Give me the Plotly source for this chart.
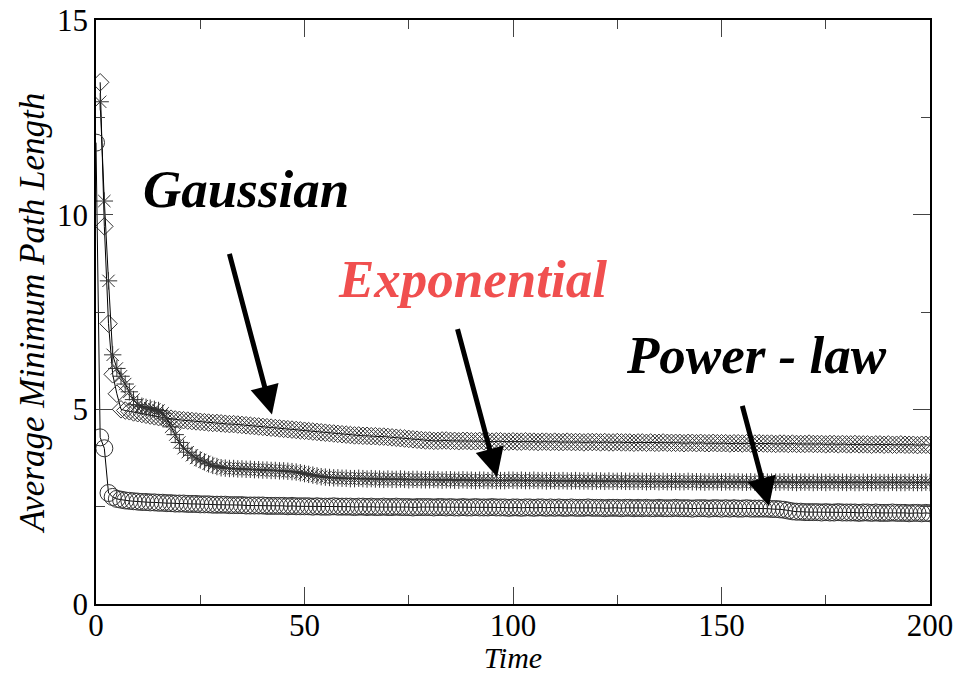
import plotly.graph_objects as go

# Time steps (one sample per step)
TIME = list(range(0, 201))

# Average minimum path length per time step, one list per degree distribution
GAUSSIAN = [
    None, 13.4, 9.7, 7.2, 5.9, 5.4, 5.0, 4.97, 4.95, 4.92,
    4.90, 4.88, 4.86, 4.84, 4.82, 4.80, 4.79, 4.77, 4.76, 4.74,
    4.73, 4.72, 4.71, 4.70, 4.69, 4.68, 4.67, 4.66, 4.65, 4.65,
    4.64, 4.63, 4.62, 4.62, 4.61, 4.60, 4.59, 4.58, 4.57, 4.56,
    4.55, 4.54, 4.53, 4.52, 4.51, 4.50, 4.49, 4.48, 4.47, 4.46,
    4.45, 4.44, 4.43, 4.42, 4.41, 4.40, 4.39, 4.38, 4.37, 4.36,
    4.35, 4.34, 4.33, 4.33, 4.32, 4.32, 4.31, 4.31, 4.30, 4.30,
    4.29, 4.28, 4.27, 4.26, 4.25, 4.24, 4.23, 4.22, 4.21, 4.20,
    4.20, 4.19, 4.19, 4.20, 4.20, 4.19, 4.19, 4.18, 4.19, 4.19,
    4.18, 4.18, 4.19, 4.18, 4.18, 4.17, 4.18, 4.18, 4.17, 4.17,
    4.18, 4.17, 4.17, 4.18, 4.17, 4.17, 4.16, 4.17, 4.17, 4.16,
    4.17, 4.16, 4.16, 4.17, 4.16, 4.16, 4.16, 4.15, 4.16, 4.16,
    4.16, 4.15, 4.16, 4.15, 4.15, 4.16, 4.15, 4.15, 4.15, 4.14,
    4.15, 4.15, 4.14, 4.15, 4.14, 4.14, 4.15, 4.14, 4.14, 4.14,
    4.14, 4.13, 4.14, 4.14, 4.13, 4.14, 4.13, 4.13, 4.14, 4.13,
    4.13, 4.13, 4.12, 4.13, 4.13, 4.12, 4.13, 4.12, 4.12, 4.13,
    4.12, 4.12, 4.12, 4.11, 4.12, 4.12, 4.11, 4.12, 4.11, 4.11,
    4.11, 4.12, 4.11, 4.11, 4.11, 4.10, 4.11, 4.11, 4.10, 4.11,
    4.10, 4.10, 4.11, 4.10, 4.10, 4.10, 4.09, 4.10, 4.10, 4.09,
    4.10, 4.09, 4.09, 4.10, 4.09, 4.09, 4.09, 4.08, 4.09, 4.09,
    4.08,
]

EXPONENTIAL = [
    None, 12.9, 10.35, 8.3, 6.4, 6.05, 5.85, 5.65, 5.45, 5.25,
    5.12, 5.08, 5.05, 5.03, 5.00, 4.97, 4.90, 4.75, 4.55, 4.35,
    4.15, 4.00, 3.90, 3.82, 3.75, 3.70, 3.65, 3.60, 3.56, 3.53,
    3.50, 3.49, 3.48, 3.48, 3.47, 3.47, 3.46, 3.46, 3.45, 3.45,
    3.44, 3.44, 3.43, 3.43, 3.42, 3.42, 3.41, 3.40, 3.39, 3.37,
    3.35, 3.33, 3.31, 3.29, 3.27, 3.26, 3.25, 3.24, 3.24, 3.23,
    3.23, 3.22, 3.22, 3.23, 3.22, 3.21, 3.22, 3.21, 3.21, 3.20,
    3.21, 3.20, 3.20, 3.21, 3.20, 3.19, 3.20, 3.20, 3.19, 3.19,
    3.19, 3.20, 3.19, 3.18, 3.19, 3.19, 3.18, 3.18, 3.19, 3.18,
    3.18, 3.17, 3.18, 3.18, 3.17, 3.18, 3.17, 3.17, 3.17, 3.18,
    3.18, 3.17, 3.18, 3.17, 3.17, 3.18, 3.17, 3.17, 3.16, 3.17,
    3.17, 3.16, 3.17, 3.16, 3.16, 3.17, 3.16, 3.16, 3.16, 3.15,
    3.16, 3.16, 3.15, 3.16, 3.15, 3.15, 3.16, 3.15, 3.15, 3.15,
    3.15, 3.15, 3.14, 3.15, 3.15, 3.14, 3.15, 3.14, 3.14, 3.15,
    3.14, 3.14, 3.15, 3.14, 3.14, 3.14, 3.13, 3.14, 3.14, 3.14,
    3.13, 3.14, 3.14, 3.13, 3.14, 3.13, 3.13, 3.14, 3.13, 3.13,
    3.14, 3.13, 3.13, 3.13, 3.13, 3.14, 3.13, 3.13, 3.12, 3.13,
    3.13, 3.13, 3.12, 3.13, 3.13, 3.12, 3.13, 3.13, 3.12, 3.13,
    3.12, 3.13, 3.12, 3.12, 3.13, 3.12, 3.12, 3.13, 3.12, 3.12,
    3.12, 3.13, 3.12, 3.12, 3.12, 3.13, 3.12, 3.12, 3.12, 3.13,
    3.12,
]

POWER_LAW = [
    11.85, 4.28, 4.00, 2.85, 2.75, 2.70, 2.68, 2.66, 2.65, 2.64,
    2.63, 2.62, 2.62, 2.61, 2.61, 2.60, 2.60, 2.59, 2.59, 2.58,
    2.58, 2.58, 2.57, 2.57, 2.57, 2.56, 2.56, 2.56, 2.55, 2.55,
    2.55, 2.55, 2.54, 2.54, 2.54, 2.54, 2.53, 2.53, 2.53, 2.53,
    2.53, 2.52, 2.52, 2.52, 2.52, 2.52, 2.51, 2.52, 2.51, 2.51,
    2.51, 2.51, 2.50, 2.51, 2.50, 2.50, 2.50, 2.51, 2.50, 2.50,
    2.50, 2.50, 2.49, 2.50, 2.50, 2.49, 2.50, 2.49, 2.49, 2.50,
    2.49, 2.49, 2.50, 2.49, 2.49, 2.49, 2.48, 2.49, 2.49, 2.49,
    2.49, 2.48, 2.49, 2.49, 2.48, 2.49, 2.48, 2.48, 2.49, 2.48,
    2.48, 2.49, 2.48, 2.48, 2.48, 2.49, 2.48, 2.48, 2.48, 2.47,
    2.48, 2.48, 2.47, 2.48, 2.48, 2.47, 2.48, 2.48, 2.47, 2.48,
    2.47, 2.48, 2.47, 2.47, 2.48, 2.47, 2.47, 2.47, 2.48, 2.47,
    2.47, 2.47, 2.46, 2.47, 2.47, 2.47, 2.46, 2.47, 2.47, 2.46,
    2.47, 2.46, 2.47, 2.46, 2.46, 2.47, 2.46, 2.46, 2.46, 2.47,
    2.46, 2.46, 2.46, 2.45, 2.46, 2.46, 2.46, 2.45, 2.46, 2.46,
    2.45, 2.46, 2.45, 2.46, 2.45, 2.45, 2.46, 2.45, 2.45, 2.45,
    2.45, 2.45, 2.44, 2.44, 2.43, 2.42, 2.40, 2.38, 2.37, 2.37,
    2.36, 2.36, 2.36, 2.36, 2.35, 2.36, 2.35, 2.35, 2.36, 2.35,
    2.35, 2.35, 2.35, 2.34, 2.35, 2.35, 2.34, 2.35, 2.34, 2.34,
    2.34, 2.35, 2.34, 2.34, 2.34, 2.33, 2.34, 2.34, 2.33, 2.34,
    2.33,
]

X_TICKS = [0, 50, 100, 150, 200]
Y_TICKS = [0, 5, 10, 15]

# Curve labels: text, label centre (time, length), arrow tail, arrow tip, colour
LABELS = [
    ("Gaussian", (36, 10.65), (31.9, 9.03), (42.2, 4.87), "#000000"),
    ("Exponential", (90.2, 8.35), (86.6, 7.1), (96.2, 3.26), "#F04F4F"),
    ("Power - law", (158.5, 6.4), (154.9, 5.13), (161.4, 2.51), "#000000"),
]

SERIF = "Liberation Serif, Times New Roman, serif"
MARK = "#333333"

fig = go.Figure()

# Symbol sizes chosen so every glyph is roughly the same width on screen
for values, symbol, size in [
    (GAUSSIAN, "diamond-open", 13.5),
    (EXPONENTIAL, "asterisk-open", 14.5),
    (POWER_LAW, "circle-open", 17),
]:
    fig.add_trace(go.Scatter(
        x=TIME, y=values, mode="lines+markers",
        line=dict(color="black", width=1),
        marker=dict(symbol=symbol, size=size, color=MARK, line=dict(width=1)),
        showlegend=False, connectgaps=False,
    ))

annotations = []
for text, (tx, ty), (ax, ay), (hx, hy), color in LABELS:
    annotations.append(dict(
        x=hx, y=hy, ax=ax, ay=ay, xref="x", yref="y", axref="x", ayref="y",
        text="", showarrow=True, arrowhead=2, arrowsize=1.15, arrowwidth=5,
        arrowcolor="black", standoff=0, startstandoff=0,
    ))
    annotations.append(dict(
        x=tx, y=ty, xref="x", yref="y", showarrow=False,
        text=f"<b><i>{text}</i></b>",
        font=dict(family=SERIF, size=53, color=color),
    ))

axis_common = dict(
    showline=True, linecolor="black", linewidth=1.5, mirror="ticks",
    ticks="inside", ticklen=17, tickwidth=1, tickcolor="#444",
    showgrid=False, zeroline=False, automargin=False,
    tickfont=dict(family=SERIF, size=31, color="black"),
)

fig.update_layout(
    width=960, height=674,
    margin=dict(l=96, r=30, t=20, b=70),
    paper_bgcolor="white", plot_bgcolor="white",
    xaxis=dict(
        range=[0, 200], tickvals=X_TICKS, ticklabelstandoff=-7,
        minor=dict(ticks="inside", ticklen=9, dtick=25, tick0=0, tickcolor="#444"),
        title=dict(text="<i>Time</i>", font=dict(family=SERIF, size=30, color="black"), standoff=5),
        **axis_common,
    ),
    yaxis=dict(
        range=[0, 15], tickvals=Y_TICKS,
        minor=dict(ticks="inside", ticklen=9, dtick=2.5, tick0=0, tickcolor="#444"),
        title=dict(text="<i>Average Minimum Path Length</i>", font=dict(family=SERIF, size=35, color="black"), standoff=2),
        **axis_common,
    ),
    annotations=annotations,
)

fig.write_html("out.html")
